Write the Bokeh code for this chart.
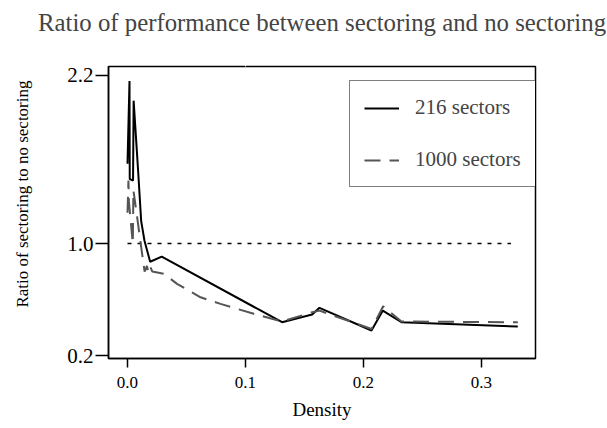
from bokeh.plotting import figure
from bokeh.models import (FixedTicker, PrintfTickFormatter, Legend, LegendItem, Range1d,
                          Title, LinearAxis, CustomJSTickFormatter)
from bokeh.embed import file_html
from bokeh.resources import INLINE

# ---- data ----
density_216 = [0.0, 0.0017, 0.0019, 0.0047, 0.0052, 0.009, 0.0116, 0.0144, 0.0192, 0.029,
               0.131, 0.1565, 0.1627, 0.2068, 0.2164, 0.2322, 0.3308]
ratio_216 = [1.57, 2.16, 1.46, 1.45, 2.02, 1.52, 1.16, 1.02, 0.87, 0.907,
             0.438, 0.493, 0.541, 0.379, 0.521, 0.438, 0.407]

density_1000 = [0.0, 0.0008, 0.0012, 0.0045, 0.005, 0.008, 0.0115, 0.0145, 0.0165, 0.0178,
                0.0195, 0.021, 0.0308, 0.042, 0.0619, 0.0788, 0.107, 0.131, 0.1565, 0.1627,
                0.2068, 0.2167, 0.2322, 0.3308]
ratio_1000 = [1.22, 1.45, 1.30, 1.00, 1.38, 1.20, 0.98, 0.80, 0.84, 0.79,
              0.83, 0.80, 0.784, 0.712, 0.616, 0.569, 0.498, 0.443, 0.509, 0.521,
              0.39, 0.552, 0.443, 0.438]

ref_density = [0.0, 0.325]
ref_ratio = [1.0, 1.0]

x_ticks = [0.0, 0.1, 0.2, 0.3]
y_ticks = [0.2, 1.0, 2.2]

series_names = ["216 sectors", "1000 sectors"]
title_text = "Ratio of performance between sectoring and no sectoring"
x_label = "Density"
y_label = "Ratio of sectoring to no sectoring"

FONT = "Liberation Serif"

p = figure(width=607, height=428, output_backend="svg", toolbar_location=None,
           x_range=Range1d(-0.0161, 0.3458), y_range=Range1d(0.179, 2.264),
           min_border_left=108, min_border_right=72, min_border_top=66, min_border_bottom=70)

p.xgrid.visible = False
p.ygrid.visible = False
p.outline_line_color = "black"
p.outline_line_width = 1.5
p.outline_line_alpha = 1.0

p.line(ref_density, ref_ratio, line_color="black", line_width=1.5, line_dash="4 6")
r1 = p.line(density_216, ratio_216, line_color="black", line_width=2)
r2 = p.line(density_1000, ratio_1000, line_color="#555555", line_width=2, line_dash="16 9")

for ax in (p.xaxis[0], p.yaxis[0]):
    ax.axis_line_color = "black"
    ax.axis_line_width = 1.5
    ax.major_tick_line_color = "black"
    ax.major_tick_line_width = 1.5
    ax.minor_tick_line_color = None
    ax.major_tick_in = 0
    ax.major_label_text_font = FONT
    ax.axis_label_text_font = FONT
    ax.axis_label_text_font_style = "normal"
    ax.major_label_text_color = "black"
    ax.axis_label_text_color = "black"

p.xaxis.ticker = FixedTicker(ticks=x_ticks)
p.xaxis.formatter = PrintfTickFormatter(format="%.1f")
p.xaxis.major_tick_out = 9
p.xaxis.major_label_standoff = 9
p.xaxis.major_label_text_font_size = "17px"
p.xaxis.axis_label = x_label
p.xaxis.axis_label_text_font_size = "19px"
p.xaxis.axis_label_standoff = 8

p.yaxis.ticker = FixedTicker(ticks=y_ticks)
p.yaxis.formatter = PrintfTickFormatter(format="%.1f")
p.yaxis.major_tick_out = 13
p.yaxis.major_label_standoff = 2
p.yaxis.major_label_text_font_size = "21px"


def spacer_axis(size, tick):
    # invisible axis used only to reserve empty space in a side panel
    return LinearAxis(ticker=FixedTicker(ticks=[tick]), axis_line_color=None,
                      major_tick_line_color="white", major_tick_line_width=1,
                      minor_tick_line_color=None, major_tick_in=0, major_tick_out=size,
                      major_label_standoff=0, major_label_text_font_size="1px",
                      major_label_text_color="white",
                      formatter=CustomJSTickFormatter(code="return ''"))


# empty spacer between frame and title, then the title further out
p.add_layout(spacer_axis(26, x_ticks[1]), "above")
p.title.text = title_text
p.title.text_font = FONT
p.title.text_font_size = "24.8px"
p.title.text_font_style = "normal"
p.title.align = "center"

# empty spacer to the left of the y axis, then the y label as a side title
p.add_layout(spacer_axis(28, y_ticks[1]), "left")
ylab = Title(text=y_label, align="right", offset=14,
             text_font=FONT, text_font_size="17px", text_font_style="normal",
             text_color="black")
p.add_layout(ylab, "left")

legend = Legend(items=[LegendItem(label=series_names[0], renderers=[r1]),
                       LegendItem(label=series_names[1], renderers=[r2])],
                location=(241, 171), margin=0, padding=14, spacing=27,
                glyph_width=35, glyph_height=22, label_height=22, label_standoff=16,
                label_text_font=FONT, label_text_font_size="21px",
                border_line_color="black", border_line_width=1.5,
                background_fill_alpha=1.0)
p.add_layout(legend)

open("out.html", "w").write(file_html(p, INLINE))
